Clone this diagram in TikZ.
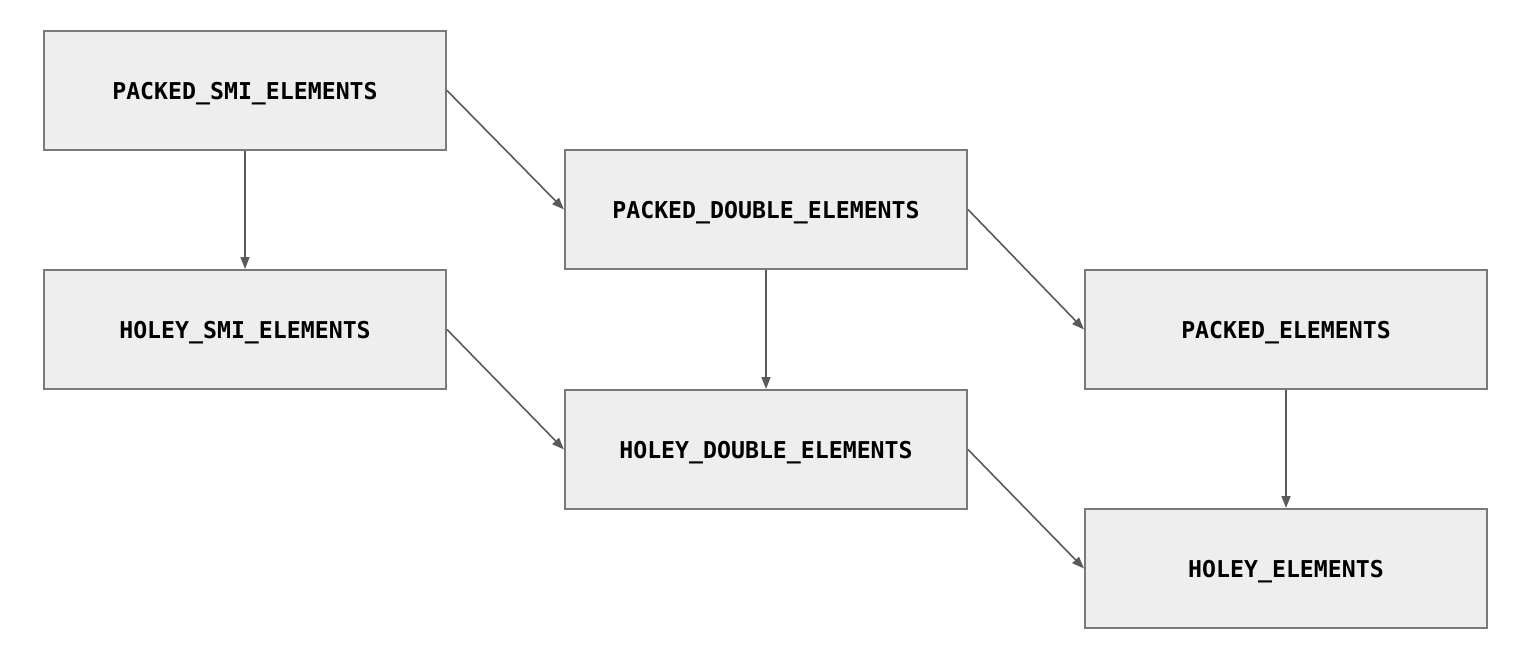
\documentclass[tikz,border=0pt]{standalone}
\usepackage{fontspec}
\setmonofont{DejaVu Sans Mono}
\usetikzlibrary{arrows.meta}
\definecolor{boxfill}{HTML}{EEEEEE}
\definecolor{boxline}{HTML}{7A7A7A}
\definecolor{arrowline}{HTML}{5A5A5A}
\tikzset{
  kindbox/.style={draw=boxline, line width=1pt, fill=boxfill,
    minimum width=201pt, minimum height=59.5pt, inner sep=0pt, text depth=0pt,
    font=\ttfamily\bfseries\fontsize{11.6}{14}\selectfont},
  trans/.style={draw=arrowline, line width=0.8pt, -{Triangle[length=6pt,width=4.5pt]}}
}
\begin{document}
\begin{tikzpicture}[x=0.5pt,y=-0.5pt]
\useasboundingbox (0,0) rectangle (1537,670);

%Element kinds
\node[kindbox] (psmi) at (245,90.5){PACKED\_SMI\_ELEMENTS};
\node[kindbox] (hsmi) at (245,329.5){HOLEY\_SMI\_ELEMENTS};
\node[kindbox] (pdouble) at (766,209.5){PACKED\_DOUBLE\_ELEMENTS};
\node[kindbox] (hdouble) at (766,449.5){HOLEY\_DOUBLE\_ELEMENTS};
\node[kindbox] (packed) at (1286,329.5){PACKED\_ELEMENTS};
\node[kindbox] (holey) at (1286,568.5){HOLEY\_ELEMENTS};

%Transitions
\draw[trans] (psmi.south)--(hsmi.north);
\draw[trans] (psmi.east)--(pdouble.west);
\draw[trans] (pdouble.south)--(hdouble.north);
\draw[trans] (pdouble.east)--(packed.west);
\draw[trans] (hsmi.east)--(hdouble.west);
\draw[trans] (hdouble.east)--(holey.west);
\draw[trans] (packed.south)--(holey.north);

\end{tikzpicture}
\end{document}
